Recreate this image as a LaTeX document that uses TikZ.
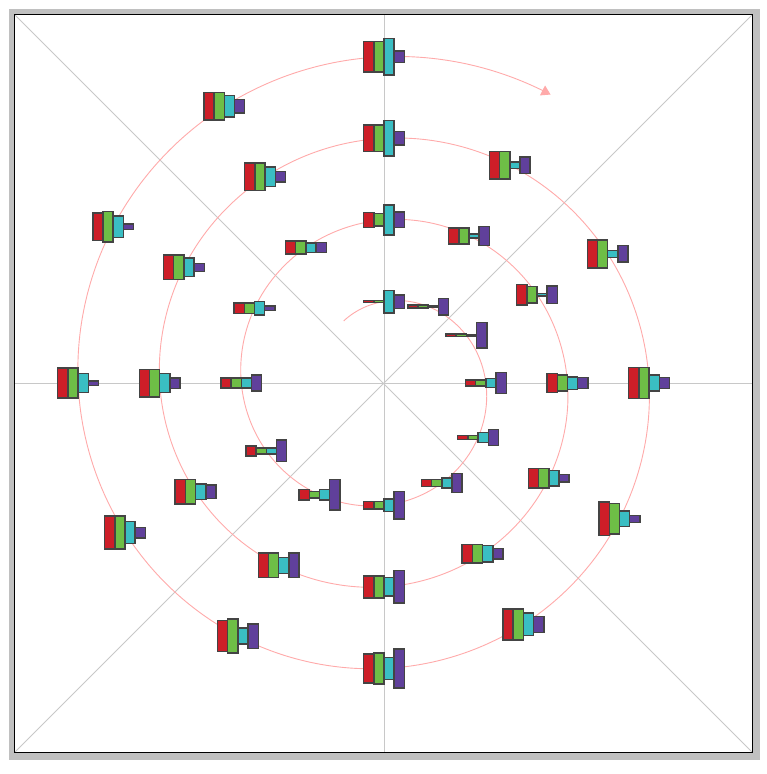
\documentclass[tikz,border=0pt]{standalone}
\usetikzlibrary{arrows.meta}
\definecolor{barred}{RGB}{205,30,40}
\definecolor{bargreen}{RGB}{110,190,70}
\definecolor{barcyan}{RGB}{58,190,195}
\definecolor{barpurple}{RGB}{96,64,155}
\definecolor{barline}{RGB}{68,68,68}
\definecolor{framegray}{RGB}{192,192,192}
\definecolor{axisgray}{RGB}{200,200,200}
\definecolor{spiralpink}{RGB}{255,170,170}
\begin{document}
\begin{tikzpicture}[x=1pt,y=-1pt,
  bar/.style={draw=barline, line width=1.5pt},
  axisline/.style={draw=axisgray, line width=0.9pt},
  spiralline/.style={draw=spiralpink, line width=0.9pt}]
\useasboundingbox (0,0) rectangle (767,774);
\fill[framegray] (9,9) rectangle (760,760);
\fill[white] (15,15) rectangle (752,752);
% axes
\coordinate (tl) at (15,15);
\coordinate (tr) at (752,15);
\coordinate (bl) at (15,752);
\coordinate (br) at (752,752);
\coordinate (ml) at (15,383);
\coordinate (mr) at (752,383);
\coordinate (mt) at (384,15);
\coordinate (mb) at (384,752);
\draw[axisline] (tl) -- (br);
\draw[axisline] (tr) -- (bl);
\draw[axisline] (ml) -- (mr);
\draw[axisline] (mt) -- (mb);
\draw[black, line width=1.5pt] (14.5,14.5) rectangle (752.5,752.5);
% spiral
\begin{scope}[shift={(384,383)}]
\draw[spiralline, -{Triangle[length=9pt,width=11pt]}] plot[domain=-123:1020, samples=500, smooth] (\x:{81.5+6.8*(\x+90)/30});
\end{scope}
% glyphs
\def\bw{10.2}
\foreach \k/\ha/\hb/\hc/\hd in {
1/3.3/3.3/24/15,
2/4.3/4.3/2.5/18,
3/4/4/2.5/27,
4/7.3/7.3/10.3/22.3,
5/5.7/5.3/11.3/17.3,
6/8.7/8.7/11.3/20.7,
7/8.7/8.7/14.3/29.3,
8/11.7/8.3/11.7/32,
9/11.7/7.7/7.7/23,
10/11.3/11.3/11.3/17.7,
11/12.3/12.3/14.7/5.7,
12/14.3/14.3/11/11.3,
13/16.7/14/31.7/17,
14/17.7/17.7/5.3/20.7,
15/21.7/18.3/4/18.7,
16/20.7/17.3/14/12.3,
17/20.7/20.7/17.3/9,
18/20.3/20.3/17.7/12,
19/23.7/23.7/20/34,
20/26/26/17.7/26,
21/26/26/17.3/14.7,
22/29/29/20.3/12,
23/26/26/20/9.3,
24/29/29/21/12,
25/28.3/28.3/37.3/14.7,
26/28.7/28.7/8.3/17.7,
27/29.3/29.3/8.7/18,
28/32.3/32.3/17.3/12.3,
29/35/32/17/8.7,
30/32.7/32.7/24/17.3,
31/30.7/32.3/23.3/40.7,
32/32.3/35.3/17.7/26,
33/34.7/34.7/23.7/12,
34/31.7/31.7/20.3/6,
35/29/31.7/23.3/6.7,
36/29/29/23.3/14.7,
37/32/32/37.7/12.7}{
  \pgfmathsetmacro\ang{30*(\k-1)-90}
  \pgfmathsetmacro\rad{81.5+6.8*(\k-1)}
  \pgfmathsetmacro\ya{max(0.6,(\ha-1.5)/2)}
  \pgfmathsetmacro\yb{max(0.6,(\hb-1.5)/2)}
  \pgfmathsetmacro\yc{max(0.6,(\hc-1.5)/2)}
  \pgfmathsetmacro\yd{max(0.6,(\hd-1.5)/2)}
  \begin{scope}[shift={(384,383)}, shift={(\ang:\rad)}]
    \draw[bar, fill=barred] (-2*\bw,-\ya) rectangle (-\bw,\ya);
    \draw[bar, fill=bargreen] (-\bw,-\yb) rectangle (0,\yb);
    \draw[bar, fill=barcyan] (0,-\yc) rectangle (\bw,\yc);
    \draw[bar, fill=barpurple] (\bw,-\yd) rectangle (2*\bw,\yd);
  \end{scope}
}
\end{tikzpicture}
\end{document}
